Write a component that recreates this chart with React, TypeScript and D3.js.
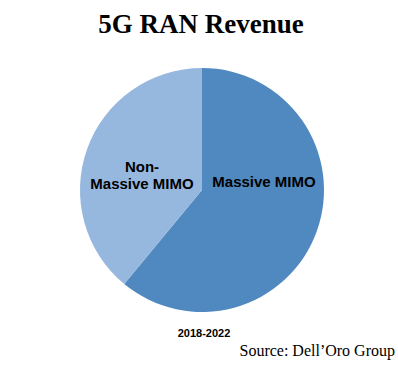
import React from "react";
import * as d3 from "d3";

const categories = ["Massive MIMO", "Non-Massive MIMO"];
const values = [61, 39];
const colors = ["#4F89BF", "#96B8DF"];

export default function App() {
  const width = 398, height = 367;
  const cx = 202, cy = 190, r = 122;
  const pie = d3.pie<number>().sort(null).value((d) => d)(values);
  const arc = d3.arc<d3.PieArcDatum<number>>().innerRadius(0).outerRadius(r);
  return (
    <svg width={width} height={height} style={{ position: "absolute", left: 0, top: 0 }}>
      <rect width={width} height={height} fill="#fff" />
      <text x={201} y={33} textAnchor="middle" fontFamily="Liberation Serif, Times New Roman, serif" fontWeight="bold" fontSize={27}>5G RAN Revenue</text>
      <g transform={`translate(${cx},${cy})`}>
        {pie.map((p, i) => (
          <path key={i} d={arc(p) as string} fill={colors[i]} />
        ))}
      </g>
      <text x={264} y={187} textAnchor="middle" fontFamily="Liberation Sans, Arial, sans-serif" fontWeight="bold" fontSize={15}>{categories[0]}</text>
      <text textAnchor="middle" fontFamily="Liberation Sans, Arial, sans-serif" fontWeight="bold" fontSize={15}>
        <tspan x={142} y={172}>Non-</tspan>
        <tspan x={142} y={189}>Massive MIMO</tspan>
      </text>
      <text x={204} y={337} textAnchor="middle" fontFamily="Liberation Sans, Arial, sans-serif" fontWeight="bold" fontSize={11}>2018-2022</text>
      <text x={395} y={356} textAnchor="end" fontFamily="Liberation Serif, Times New Roman, serif" fontSize={16}>Source: Dell’Oro Group</text>
    </svg>
  );
}
